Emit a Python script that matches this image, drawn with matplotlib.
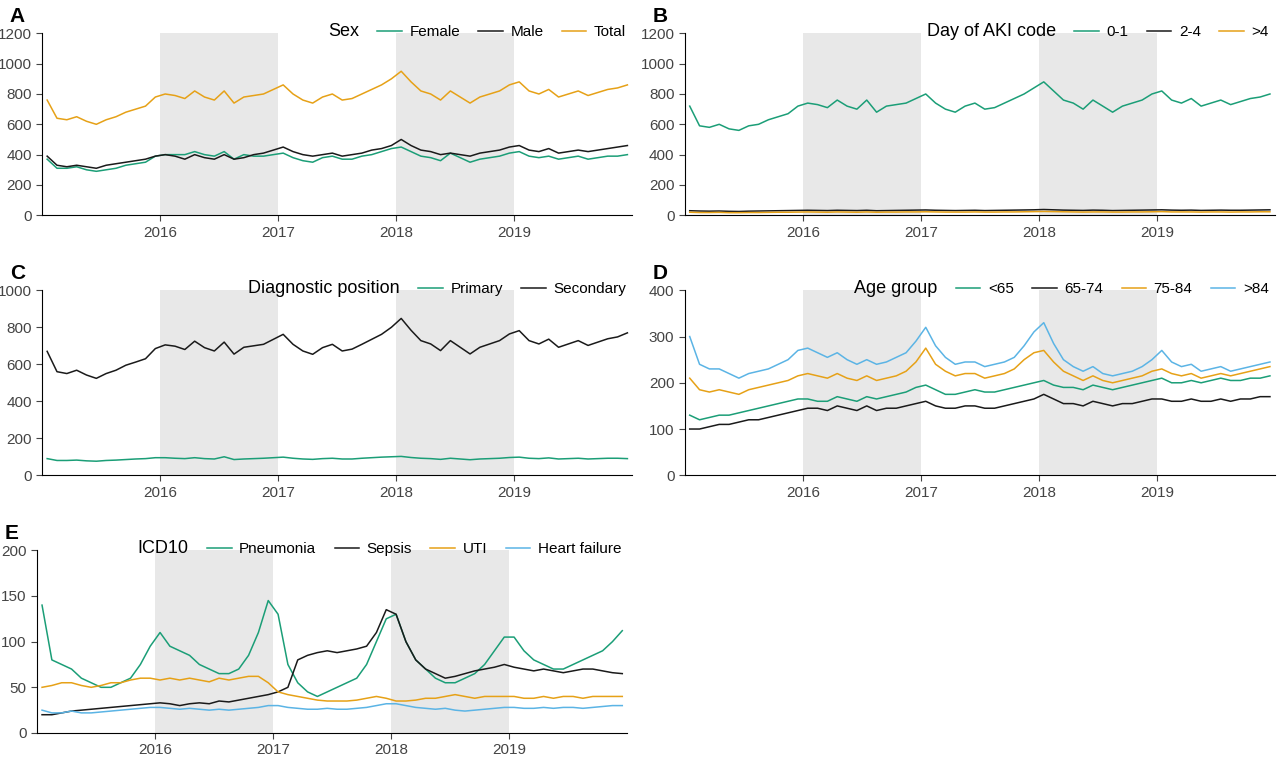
import matplotlib
matplotlib.use("Agg")
import matplotlib.pyplot as plt
from matplotlib.lines import Line2D
import numpy as np

plt.rcParams['font.family'] = ['Liberation Sans', 'DejaVu Sans']

months = np.arange(60)
x = 2015 + months / 12 + 1 / 24

sex_total = [760,640,630,650,620,600,630,650,680,700,720,780, 800,790,770,820,780,760,820,740,780,790,800,830,
             860,800,760,740,780,800,760,770,800,830,860,900, 950,880,820,800,760,820,780,740,780,800,820,860,
             880,820,800,830,780,800,820,790,810,830,840,860]
sex_male = [390,330,320,330,320,310,330,340,350,360,370,390, 400,390,370,400,380,370,400,370,380,400,410,430,
            450,420,400,390,400,410,390,400,410,430,440,460, 500,460,430,420,400,410,400,390,410,420,430,450,
            460,430,420,440,410,420,430,420,430,440,450,460]
sex_female = [370,310,310,320,300,290,300,310,330,340,350,390, 400,400,400,420,400,390,420,370,400,390,390,400,
              410,380,360,350,380,390,370,370,390,400,420,440, 450,420,390,380,360,410,380,350,370,380,390,410,
              420,390,380,390,370,380,390,370,380,390,390,400]

aki_01 = [720,590,580,600,570,560,590,600,630,650,670,720, 740,730,710,760,720,700,760,680,720,730,740,770,
          800,740,700,680,720,740,700,710,740,770,800,840, 880,820,760,740,700,760,720,680,720,740,760,800,
          820,760,740,770,720,740,760,730,750,770,780,800]
aki_24 = [30,28,27,28,26,25,27,28,29,30,31,32, 33,32,31,33,32,31,33,30,31,32,33,34, 35,33,32,31,32,33,31,32,33,34,35,36,
          38,36,34,33,32,34,33,31,32,33,34,35, 36,34,33,34,32,33,34,33,33,34,35,36]
aki_4 = [20,18,18,19,17,17,18,18,19,20,20,21, 22,21,20,22,21,20,22,20,21,21,22,22, 23,22,21,21,21,22,21,21,22,22,23,24,
         25,24,23,22,21,22,22,21,21,22,22,23, 24,22,22,22,21,22,22,21,22,22,23,23]

dx_primary = [90,80,80,82,78,76,80,82,85,88,90,95, 95,92,90,95,90,88,100,85,88,90,92,95, 98,92,88,86,90,92,88,88,92,95,98,100,
              102,96,92,90,86,92,88,84,88,90,92,96, 98,92,90,94,88,90,92,88,90,92,92,90]
dx_secondary = [670,560,550,568,542,524,550,568,595,612,630,685, 705,698,680,725,690,672,720,655,692,700,708,735,
                762,708,672,654,690,708,672,682,708,735,762,800, 848,784,728,710,674,728,692,656,692,710,728,764,
                782,728,710,736,692,710,728,702,720,738,748,770]

age_lt65 = [130,120,125,130,130,135,140,145,150,155,160,165, 165,160,160,170,165,160,170,165,170,175,180,190,
            195,185,175,175,180,185,180,180,185,190,195,200, 205,195,190,190,185,195,190,185,190,195,200,205,
            210,200,200,205,200,205,210,205,205,210,210,215]
age_6574 = [100,100,105,110,110,115,120,120,125,130,135,140, 145,145,140,150,145,140,150,140,145,145,150,155,
            160,150,145,145,150,150,145,145,150,155,160,165, 175,165,155,155,150,160,155,150,155,155,160,165,
            165,160,160,165,160,160,165,160,165,165,170,170]
age_7584 = [210,185,180,185,180,175,185,190,195,200,205,215, 220,215,210,220,210,205,215,205,210,215,225,245,
            275,240,225,215,220,220,210,215,220,230,250,265, 270,245,225,215,205,215,205,200,205,210,215,225,
            230,220,215,220,210,215,220,215,220,225,230,235]
age_gt84 = [300,240,230,230,220,210,220,225,230,240,250,270, 275,265,255,265,250,240,250,240,245,255,265,290,
            320,280,255,240,245,245,235,240,245,255,280,310, 330,285,250,235,225,235,220,215,220,225,235,250,
            270,245,235,240,225,230,235,225,230,235,240,245]

icd_pneu = [140,80,75,70,60,55,50,50,55,60,75,95, 110,95,90,85,75,70,65,65,70,85,110,145,
            130,75,55,45,40,45,50,55,60,75,100,125, 130,100,80,70,60,55,55,60,65,75,90,105,
            105,90,80,75,70,70,75,80,85,90,100,112]
icd_sepsis = [20,20,22,24,25,26,27,28,29,30,31,32, 33,32,30,32,33,32,35,34,36,38,40,42,
              45,50,80,85,88,90,88,90,92,95,110,135, 130,100,80,70,65,60,62,65,68,70,72,75,
              72,70,68,70,68,66,68,70,70,68,66,65]
icd_uti = [50,52,55,55,52,50,52,55,55,58,60,60, 58,60,58,60,58,56,60,58,60,62,62,55,
           45,42,40,38,36,35,35,35,36,38,40,38, 35,35,36,38,38,40,42,40,38,40,40,40,
           40,38,38,40,38,40,40,38,40,40,40,40]
icd_hf = [25,22,22,24,22,22,23,24,25,26,27,28, 28,27,26,27,26,25,26,25,26,27,28,30,
          30,28,27,26,26,27,26,26,27,28,30,32, 32,30,28,27,26,27,25,24,25,26,27,28,
          28,27,27,28,27,28,28,27,28,29,30,30]

GREEN, BLACK, ORANGE, BLUE = '#1b9e77', '#1a1a1a', '#e6a117', '#5bb4e5'

fig = plt.figure(figsize=(12.8, 7.58), dpi=100)

def panel(rect, letter, title, series, yticks):
    ax = fig.add_axes(rect)
    for s in (2016, 2018):
        ax.axvspan(s, s + 1, color='#e8e8e8', lw=0, zorder=0)
    handles = [Line2D([], [], color='none', label=title)]
    for lab, vals, col in series:
        h, = ax.plot(x, vals, color=col, lw=1.1, label=lab)
        handles.append(h)
    ax.set_xlim(2015.0, 2020.0)
    ax.set_ylim(yticks[0], yticks[-1])
    ax.set_yticks(yticks)
    ax.set_xticks([2016, 2017, 2018, 2019])
    for sp in ('top', 'right'):
        ax.spines[sp].set_visible(False)
    ax.tick_params(labelsize=11, colors='#444444', length=4)
    leg = ax.legend(handles=handles, ncol=len(handles), loc='lower right',
                    bbox_to_anchor=(1.0, 0.93), frameon=False, fontsize=11,
                    handlelength=1.6, columnspacing=1.2, handletextpad=0.5, borderaxespad=0)
    leg.get_texts()[0].set_fontsize(13)
    ax.text(-0.055, 1.04, letter, transform=ax.transAxes, fontsize=15, fontweight='bold', va='bottom')
    return ax

W = 0.461
panel([0.033, 0.716, W, 0.240], 'A', 'Sex',
      [('Female', sex_female, GREEN), ('Male', sex_male, BLACK), ('Total', sex_total, ORANGE)],
      list(range(0, 1201, 200)))
panel([0.535, 0.716, W, 0.240], 'B', 'Day of AKI code',
      [('0-1', aki_01, GREEN), ('2-4', aki_24, BLACK), ('>4', aki_4, ORANGE)],
      list(range(0, 1201, 200)))
panel([0.033, 0.373, W, 0.244], 'C', 'Diagnostic position',
      [('Primary', dx_primary, GREEN), ('Secondary', dx_secondary, BLACK)],
      list(range(0, 1001, 200)))
panel([0.535, 0.373, W, 0.244], 'D', 'Age group',
      [('<65', age_lt65, GREEN), ('65-74', age_6574, BLACK), ('75-84', age_7584, ORANGE), ('>84', age_gt84, BLUE)],
      list(range(0, 401, 100)))
panel([0.029, 0.033, W, 0.241], 'E', 'ICD10',
      [('Pneumonia', icd_pneu, GREEN), ('Sepsis', icd_sepsis, BLACK), ('UTI', icd_uti, ORANGE), ('Heart failure', icd_hf, BLUE)],
      list(range(0, 201, 50)))

fig.savefig('out.png', dpi=100)
